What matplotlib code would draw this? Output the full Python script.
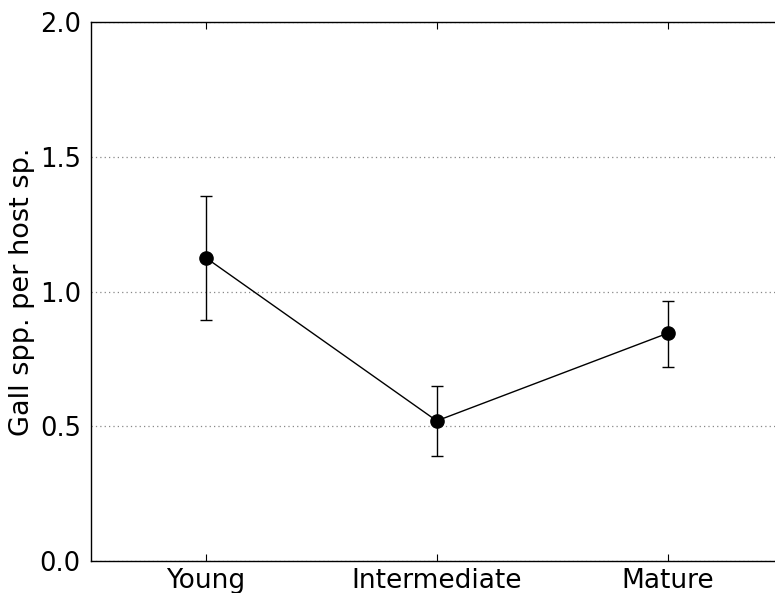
import matplotlib
matplotlib.use("Agg")
import matplotlib.pyplot as plt

categories = ["Young", "Intermediate", "Mature"]
means = [1.125, 0.52, 0.845]
upper = [1.355, 0.648, 0.965]
lower = [0.895, 0.39, 0.72]
yticks = [0.0, 0.5, 1.0, 1.5, 2.0]

err_low = [m - l for m, l in zip(means, lower)]
err_high = [u - m for m, u in zip(means, upper)]

W, H = 775, 593
fig = plt.figure(figsize=(W / 100, H / 100), dpi=100)
left, right = 90.5 / W, 783 / W
bottom, top = (H - 561) / H, (H - 22) / H
ax = fig.add_axes([left, bottom, right - left, top - bottom])

x = list(range(len(categories)))
ax.errorbar(x, means, yerr=[err_low, err_high], fmt="-o", color="black",
            markersize=9.5, linewidth=1.0, elinewidth=1.0, capsize=4, capthick=1.0)

ax.set_xlim(-0.5, 2.5)
ax.set_ylim(0, 2.0)
ax.set_xticks(x)
ax.set_xticklabels(categories, fontsize=19)
ax.set_yticks(yticks)
ax.set_yticklabels([f"{v:.1f}" for v in yticks], fontsize=18.5)
ax.tick_params(axis="x", direction="in", top=True, length=5, width=0.8, pad=5)
ax.tick_params(axis="y", length=0, pad=7)
ax.yaxis.grid(True, linestyle=(0, (1, 2.5)), color="#888888", linewidth=0.9)
ax.set_axisbelow(True)
ax.set_ylabel("Gall spp. per host sp.", fontsize=19.5, labelpad=3)
for s in ax.spines.values():
    s.set_linewidth(1.0)

fig.savefig("out.png", dpi=100)
